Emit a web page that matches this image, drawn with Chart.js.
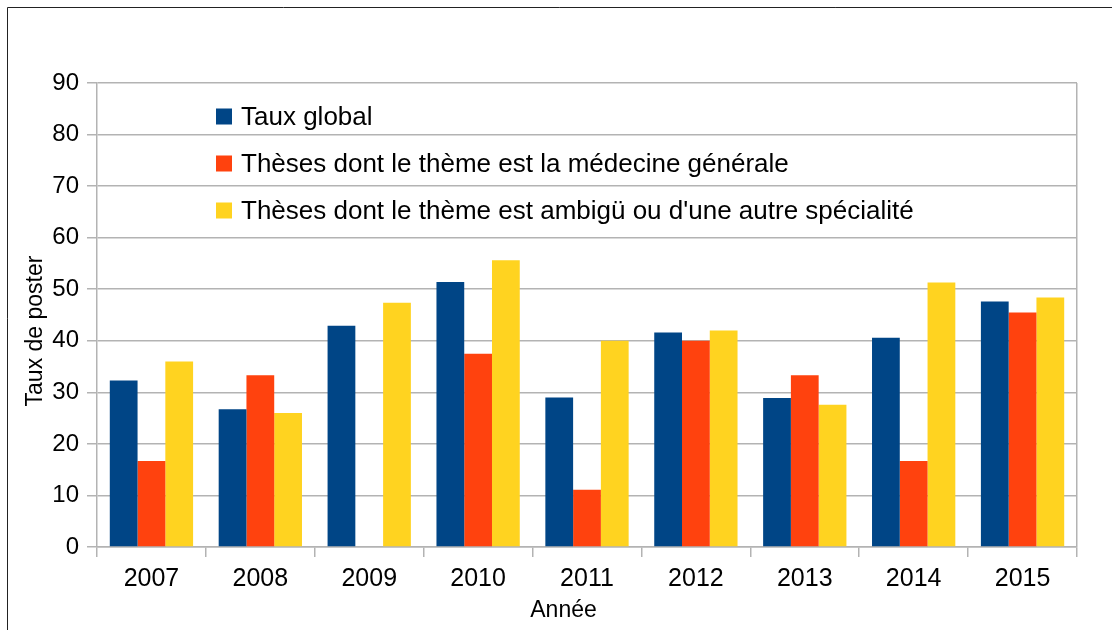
<!DOCTYPE html>
<html>
<head>
<meta charset="utf-8">
<script src="https://cdn.jsdelivr.net/npm/chart.js@4.4.1/dist/chart.umd.min.js"></script>
<style>
html,body{margin:0;padding:0;background:#fff;}
#wrap{width:1112px;height:630px;position:relative;}
</style>
</head>
<body>
<div id="wrap"><canvas id="c" width="1112" height="630"></canvas></div>
<script>
const categories = ["2007","2008","2009","2010","2011","2012","2013","2014","2015"];
const tauxGlobal = [32.3, 26.7, 42.9, 51.4, 29.0, 41.6, 28.9, 40.6, 47.6];
const medecineGenerale = [16.7, 33.3, 0, 37.5, 11.1, 40.0, 33.3, 16.7, 45.5];
const ambiguAutre = [36.0, 26.0, 47.4, 55.6, 40.0, 42.0, 27.6, 51.3, 48.4];
const seriesNames = ["Taux global", "Thèses dont le thème est la médecine générale", "Thèses dont le thème est ambigü ou d'une autre spécialité"];
const yTicks = [0,10,20,30,40,50,60,70,80,90];
const xTitle = "Année";
const yTitle = "Taux de poster";
const colors = ["#004586", "#ff420e", "#ffd320"];

const FONT = "'Liberation Sans', Arial, sans-serif";
const GRID = "#b3b3b3";

const bgPlugin = {
  id: 'bg',
  beforeDraw(chart) {
    const ctx = chart.ctx;
    ctx.save();
    ctx.fillStyle = '#fff';
    ctx.fillRect(0, 0, chart.width, chart.height);
    ctx.restore();
  },
  afterDraw(chart) {
    const ctx = chart.ctx;
    ctx.save();
    ctx.strokeStyle = '#222';
    ctx.lineWidth = 1;
    ctx.beginPath();
    ctx.moveTo(7.5, chart.height);
    ctx.lineTo(7.5, 7.5);
    ctx.lineTo(chart.width, 7.5);
    ctx.stroke();
    ctx.restore();
  }
};

const titlesPlugin = {
  id: 'axtitles',
  afterDraw(chart) {
    const ctx = chart.ctx;
    const a = chart.chartArea;
    ctx.save();
    ctx.fillStyle = '#000';
    ctx.font = "23px " + FONT;
    ctx.textAlign = 'center';
    ctx.textBaseline = 'alphabetic';
    ctx.fillText(xTitle, (a.left + a.right) / 2 - 23.5, chart.height - 13);
    ctx.translate(42, (a.top + a.bottom) / 2 + 16);
    ctx.rotate(-Math.PI / 2);
    ctx.fillText(yTitle, 0, 0);
    ctx.restore();
  }
};

const legendPlugin = {
  id: 'inlegend',
  afterDraw(chart) {
    const ctx = chart.ctx;
    const area = chart.chartArea;
    ctx.save();
    ctx.font = "26px " + FONT;
    ctx.textBaseline = 'middle';
    ctx.textAlign = 'left';
    chart.data.datasets.forEach((ds, i) => {
      const x = area.left + 119;
      const y = area.top + 33.5 + i * 47;
      ctx.fillStyle = ds.backgroundColor;
      ctx.fillRect(x, y - 8, 16, 16);
      ctx.fillStyle = '#000';
      ctx.fillText(ds.label, x + 25, y + 1);
    });
    ctx.restore();
  }
};

new Chart(document.getElementById('c'), {
  type: 'bar',
  data: {
    labels: categories,
    datasets: [
      { label: seriesNames[0], data: tauxGlobal, backgroundColor: colors[0] },
      { label: seriesNames[1], data: medecineGenerale, backgroundColor: colors[1] },
      { label: seriesNames[2], data: ambiguAutre, backgroundColor: colors[2] }
    ]
  },
  options: {
    responsive: false,
    animation: false,
    devicePixelRatio: 1,
    layout: { padding: { left: 20, top: 83, right: 35, bottom: 0 } },
    datasets: { bar: { categoryPercentage: 0.765, barPercentage: 1.0, borderWidth: 0 } },
    plugins: {
      legend: { display: false },
      tooltip: { enabled: false },
      title: { display: false }
    },
    scales: {
      x: {
        offset: true,
        afterFit(scale) { scale.height = 83; },
        grid: {
          offset: true,
          drawOnChartArea: true,
          drawTicks: true,
          tickLength: 10,
          color: (c) => (c.type === 'tick' ? 'transparent' : GRID),
          tickColor: GRID,
          lineWidth: 1.5
        },
        border: { display: true, color: GRID, width: 1.5 },
        ticks: { color: '#000', font: { family: FONT, size: 25 }, padding: 7, maxRotation: 0 },
        title: { display: false }
      },
      y: {
        min: 0,
        max: 90,
        afterFit(scale) { scale.width = 77; },
        afterBuildTicks(scale) { scale.ticks = yTicks.map(v => ({ value: v })); },
        grid: { color: GRID, tickColor: GRID, tickLength: 10, lineWidth: 1.5 },
        border: { display: true, color: GRID, width: 1.5 },
        ticks: { color: '#000', font: { family: FONT, size: 24 }, padding: 8 },
        title: { display: false }
      }
    }
  },
  plugins: [bgPlugin, titlesPlugin, legendPlugin]
});
</script>
</body>
</html>
